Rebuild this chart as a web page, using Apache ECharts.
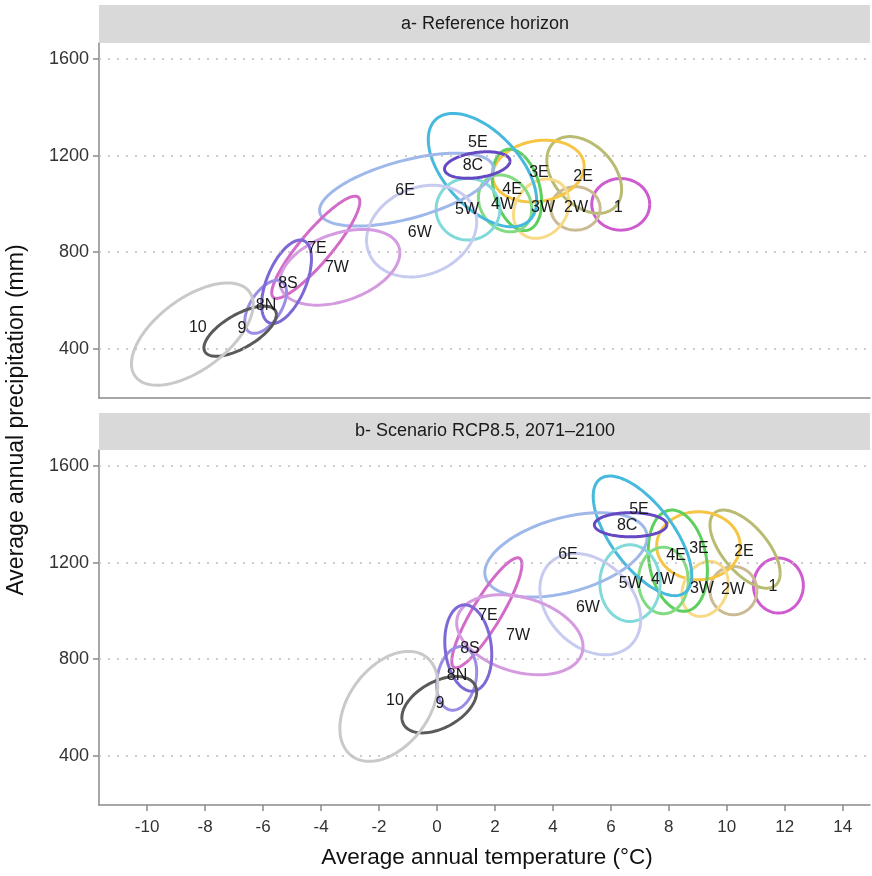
<!DOCTYPE html>
<html>
<head>
<meta charset="utf-8">
<script src="https://cdn.jsdelivr.net/npm/echarts@6/dist/echarts.min.js"></script>
<style>
html,body{margin:0;padding:0;background:#fff;}
#chart{width:872px;height:876px;}
</style>
</head>
<body>
<div id="chart"></div>
<script>
// ---- data ----
var regions = ['1','2E','2W','3E','3W','4E','4W','5E','5W','6E','6W','7E','7W','8C','8N','8S','9','10'];
var regionColors = ['#cf5ccf','#b9bb72','#cbbb95','#f6c544','#f8d985','#5dcf5d','#82da82','#46b9dc','#82d9d9','#9fb8ea','#c8cbf0','#d36cc9','#d59be1','#6549c2','#9c8ce4','#7e68d6','#5a5a5a','#c9c9c9'];

// Panel a - Reference horizon: ellipse centre, half-extent along x and y, tilt (correlation)
var refCenterT = [6.34, 5.08, 4.78, 3.50, 3.60, 2.76, 2.35, 1.57, 1.07, -1.05, -0.53, -4.18, -3.35, 1.39, -5.91, -5.19, -6.79, -8.44];
var refCenterP = [998, 1120, 981, 1136, 980, 1058, 1002, 1140, 978, 1059, 887, 820, 737, 1161, 573, 677, 472, 460];
var refHalfT   = [1.00, 1.29, 0.85, 1.58, 0.96, 0.85, 0.92, 1.87, 1.10, 3.00, 1.90, 1.52, 2.07, 1.13, 0.72, 0.86, 1.25, 2.10];
var refHalfP   = [107, 159, 90, 128, 123, 169, 118, 235, 128, 151, 190, 212, 157, 55, 110, 173, 104, 212];
var refTilt    = [0.0, -0.38, 0.0, 0.15, 0.2, -0.3, -0.2, -0.54, 0.0, 0.57, 0.2, 0.89, 0.38, 0.3, 0.55, 0.55, 0.66, 0.58];
var refLabelT  = [6.25, 5.04, 4.80, 3.52, 3.66, 2.59, 2.28, 1.41, 1.04, -1.10, -0.59, -4.14, -3.45, 1.24, -5.90, -5.14, -6.73, -8.25];
var refLabelP  = [983, 1112, 983, 1128, 983, 1061, 999, 1256, 978, 1053, 879, 816, 737, 1157, 580, 671, 484, 488];

// Panel b - Scenario RCP8.5, 2071-2100
var rcpCenterT = [11.78, 10.63, 10.23, 9.02, 9.25, 8.31, 7.81, 7.09, 6.66, 4.45, 5.29, 1.72, 2.86, 6.68, 0.68, 1.08, 0.08, -1.66];
var rcpCenterP = [1105, 1256, 1084, 1270, 1091, 1208, 1126, 1311, 1115, 1232, 1028, 992, 901, 1357, 720, 846, 611, 604];
var rcpHalfT   = [0.86, 1.21, 0.81, 1.44, 0.80, 1.02, 0.86, 1.70, 1.04, 2.80, 1.74, 1.21, 2.18, 1.25, 0.69, 0.81, 1.29, 1.69];
var rcpHalfP   = [114, 162, 100, 141, 114, 210, 138, 248, 159, 175, 210, 228, 166, 50, 132, 179, 117, 228];
var rcpTilt    = [0.0, -0.62, 0.0, 0.0, 0.2, -0.2, 0.0, -0.66, 0.0, 0.42, -0.3, 0.88, -0.3, 0.0, 0.2, -0.15, 0.45, 0.4];
var rcpLabelT  = [11.59, 10.59, 10.21, 9.04, 9.14, 8.25, 7.80, 6.97, 6.69, 4.52, 5.21, 1.76, 2.80, 6.56, 0.69, 1.14, 0.10, -1.45];
var rcpLabelP  = [1100, 1245, 1087, 1257, 1092, 1228, 1129, 1419, 1112, 1232, 1013, 980, 897, 1352, 733, 844, 615, 628];

var xTicks = [-10, -8, -6, -4, -2, 0, 2, 4, 6, 8, 10, 12, 14];
var yTicks = [400, 800, 1200, 1600];
var panelTitles = ['a- Reference horizon', 'b- Scenario RCP8.5, 2071\u20132100'];
var xTitle = 'Average annual temperature (\u00B0C)';
var yTitle = 'Average annual precipitation (mm)';

// ---- chart ----
var FONT = '"Liberation Sans", Arial, Helvetica, sans-serif';
var chart = echarts.init(document.getElementById('chart'), null, {renderer: 'canvas'});

function ellipseData(ct, cp, ht, hp, tl) {
  return regions.map(function (name, i) {
    return {name: name, value: [ct[i], cp[i], ht[i], hp[i], tl[i], i]};
  });
}
function labelData(lt, lp) {
  return regions.map(function (name, i) { return {name: name, value: [lt[i], lp[i]]}; });
}

function renderEllipse(params, api) {
  var cx = api.value(0), cy = api.value(1), hx = api.value(2), hy = api.value(3), r = api.value(4);
  var idx = api.value(5);
  var s = Math.sqrt(1 - r * r);
  var pts = [];
  var N = 120;
  for (var k = 0; k <= N; k++) {
    var t = k / N * Math.PI * 2;
    pts.push(api.coord([cx + hx * Math.cos(t), cy + hy * (r * Math.cos(t) + s * Math.sin(t))]));
  }
  return {
    type: 'polyline',
    shape: {points: pts},
    style: {fill: null, stroke: regionColors[idx], lineWidth: 3, lineJoin: 'round'}
  };
}
function renderLabel(params, api) {
  var p = api.coord([api.value(0), api.value(1)]);
  return {
    type: 'text',
    x: p[0], y: p[1],
    style: {text: regions[params.dataIndex], fill: '#1a1a1a', font: '16px ' + FONT,
            align: 'center', verticalAlign: 'middle', textAlign: 'center', textVerticalAlign: 'middle'}
  };
}

var gridLines = {
  silent: true, symbol: 'none', label: {show: false},
  lineStyle: {type: [2, 7], color: '#bdbdbd', width: 1.5},
  emphasis: {disabled: true},
  data: yTicks.map(function (v) { return {yAxis: v}; })
};

var xMin = -11.66, xMax = 14.94, yMin = 195, yMax = 1667;
function plain(v) { return String(v); }
function makeX(gi, labels) {
  return {
    type: 'value', gridIndex: gi, min: xMin, max: xMax,
    axisLine: {show: true, onZero: false, lineStyle: {color: '#8a8a8a', width: 1.5}},
    axisTick: {show: labels, customValues: xTicks, length: 6, lineStyle: {color: '#8a8a8a', width: 1.5}},
    axisLabel: {show: labels, customValues: xTicks, formatter: plain, margin: 14, color: '#333', fontSize: 17, fontFamily: FONT},
    splitLine: {show: false}
  };
}
function makeY(gi) {
  return {
    type: 'value', gridIndex: gi, min: yMin, max: yMax,
    axisLine: {show: true, onZero: false, lineStyle: {color: '#8a8a8a', width: 1.5}},
    axisTick: {show: true, customValues: yTicks, length: 6, lineStyle: {color: '#8a8a8a', width: 1.5}},
    axisLabel: {show: true, customValues: yTicks, formatter: plain, margin: 10, color: '#333', fontSize: 18, fontFamily: FONT},
    splitLine: {show: false}
  };
}

var option = {
  animation: false,
  backgroundColor: '#fff',
  grid: [
    {left: 99, right: 2, top: 43, height: 355},
    {left: 99, right: 2, top: 450, height: 355}
  ],
  xAxis: [makeX(0, false), makeX(1, true)],
  yAxis: [makeY(0), makeY(1)],
  series: [
    {type: 'custom', xAxisIndex: 0, yAxisIndex: 0, renderItem: renderEllipse, clip: true,
     data: ellipseData(refCenterT, refCenterP, refHalfT, refHalfP, refTilt), markLine: gridLines, z: 3},
    {type: 'custom', xAxisIndex: 0, yAxisIndex: 0, renderItem: renderLabel,
     data: labelData(refLabelT, refLabelP), z: 5},
    {type: 'custom', xAxisIndex: 1, yAxisIndex: 1, renderItem: renderEllipse, clip: true,
     data: ellipseData(rcpCenterT, rcpCenterP, rcpHalfT, rcpHalfP, rcpTilt), markLine: gridLines, z: 3},
    {type: 'custom', xAxisIndex: 1, yAxisIndex: 1, renderItem: renderLabel,
     data: labelData(rcpLabelT, rcpLabelP), z: 5}
  ],
  graphic: [
    {type: 'rect', shape: {x: 99, y: 5, width: 771, height: 38}, style: {fill: '#d9d9d9'}, z: 1},
    {type: 'text', x: 485, y: 24, z: 2,
     style: {text: panelTitles[0], font: '18px ' + FONT, fill: '#1a1a1a', align: 'center', verticalAlign: 'middle', textAlign: 'center', textVerticalAlign: 'middle'}},
    {type: 'rect', shape: {x: 99, y: 413, width: 771, height: 37}, style: {fill: '#d9d9d9'}, z: 1},
    {type: 'text', x: 485, y: 431.5, z: 2,
     style: {text: panelTitles[1], font: '18px ' + FONT, fill: '#1a1a1a', align: 'center', verticalAlign: 'middle', textAlign: 'center', textVerticalAlign: 'middle'}},
    {type: 'text', x: 487, y: 858, z: 2,
     style: {text: xTitle, font: '22.5px ' + FONT, fill: '#111', align: 'center', verticalAlign: 'middle', textAlign: 'center', textVerticalAlign: 'middle'}},
    {type: 'text', x: 17, y: 420, rotation: Math.PI / 2, z: 2,
     style: {text: yTitle, font: '23px ' + FONT, fill: '#111', align: 'center', verticalAlign: 'middle', textAlign: 'center', textVerticalAlign: 'middle'}}
  ]
};
chart.setOption(option);
</script>
</body>
</html>
